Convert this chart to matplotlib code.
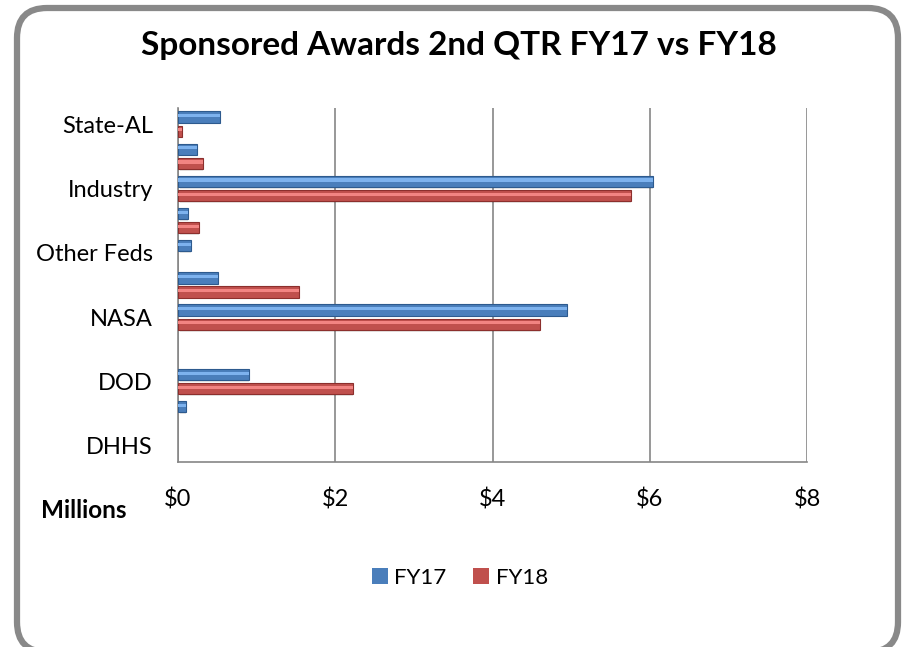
import matplotlib.pyplot as plt
import numpy as np
from matplotlib.patches import FancyBboxPatch

# bottom to top, Excel only prints every other label
categories = ['DHHS', 'DOE', 'DOD', 'NSF', 'NASA', 'DOT', 'Other Feds',
              'Foundations', 'Industry', 'Other', 'State-AL']
fy17 = [0.0, 0.10, 0.90, 0.0, 4.95, 0.51, 0.16, 0.13, 6.04, 0.24, 0.54]
fy18 = [0.0, 0.0, 2.23, 0.0, 4.60, 1.54, 0.0, 0.27, 5.76, 0.32, 0.05]
x_ticks = [0, 2, 4, 6, 8]
x_labels = ['$0', '$2', '$4', '$6', '$8']

plt.rcParams['font.family'] = ['Lato', 'DejaVu Sans']

W, H = 913, 647
fig = plt.figure(figsize=(W / 100, H / 100), dpi=100)

# background frame with rounded gray border
bg = fig.add_axes([0, 0, 1, 1], zorder=0)
bg.set_xlim(0, W)
bg.set_ylim(0, H)
bg.axis('off')
frame = FancyBboxPatch((17, -5), 881, 644, boxstyle='round,pad=0,rounding_size=30',
                       facecolor='white', edgecolor='#898989', linewidth=4.5)
bg.add_patch(frame)

ax = fig.add_axes([178 / W, 1 - 462 / H, (807 - 178) / W, (462 - 108) / H], zorder=1)
ax.patch.set_alpha(0)

y = np.arange(len(categories))
h = 0.35
off = 0.22

series = [
    (fy17, off, '#4A7EBB', '#7DB2EE', '#2D5A8E', 'FY17'),
    (fy18, -off, '#C0504D', '#F28482', '#8C2F2D', 'FY18'),
]
for vals, o, face, light, edge, name in series:
    vals = np.array(vals)
    lw = np.where(vals > 0, 0.8, 0)
    # soft shadow
    ax.barh(y + o - 0.05, np.clip(vals - 0.03, 0, None), height=h, left=0.03,
            color='#000000', alpha=0.10, linewidth=0, zorder=2)
    ax.barh(y + o, vals, height=h, color=face, edgecolor=edge, linewidth=lw,
            zorder=3, label=name)
    # highlight band for the bevelled look
    ax.barh(y + o + h * 0.12, vals, height=h * 0.28, color=light, linewidth=0,
            zorder=4)

ax.set_xlim(0, 8)
ax.set_ylim(-0.5, len(categories) - 0.5)
ax.set_xticks(x_ticks)
ax.set_xticklabels(x_labels, fontsize=17)
ax.tick_params(axis='both', length=0)
ax.tick_params(axis='x', pad=19)
ax.set_yticks(y[::2])
ax.set_yticklabels(categories[::2], fontsize=17)
ax.tick_params(axis='y', pad=18)
ax.grid(axis='x', color='#868686', linewidth=1.2, zorder=1)
ax.set_axisbelow(True)
for s in ['top', 'right']:
    ax.spines[s].set_visible(False)
for s in ['left', 'bottom']:
    ax.spines[s].set_color('#868686')
    ax.spines[s].set_linewidth(1.2)

fig.text(459 / W, 1 - 46 / H, 'Sponsored Awards 2nd QTR FY17 vs FY18',
         ha='center', va='center', fontsize=24, fontweight='bold', zorder=3)
fig.text(84 / W, 1 - 510 / H, 'Millions', ha='center', va='center',
         fontsize=17.5, fontweight='bold', zorder=3)

leg = ax.legend(loc='center', bbox_to_anchor=(460 / W, 1 - 578 / H),
                bbox_transform=fig.transFigure, ncol=2, frameon=False,
                fontsize=16, handlelength=0.7, handleheight=0.7,
                handletextpad=0.3, columnspacing=1.2)

fig.savefig('out.png', dpi=100)
